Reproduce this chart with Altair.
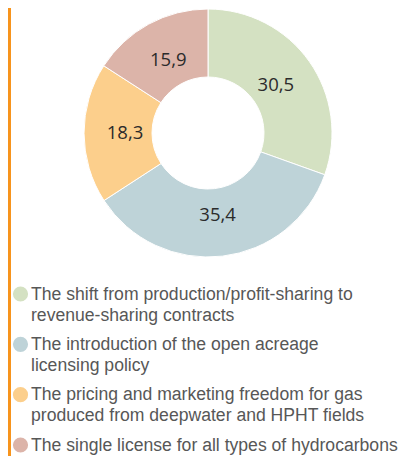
import altair as alt
import pandas as pd

categories = [
    "The shift from production/profit-sharing to revenue-sharing contracts",
    "The introduction of the open acreage licensing policy",
    "The pricing and marketing freedom for gas produced from deepwater and HPHT fields",
    "The single license for all types of hydrocarbons",
]
legend_text = [
    "The shift from production/profit-sharing to\nrevenue-sharing contracts",
    "The introduction of the open acreage\nlicensing policy",
    "The pricing and marketing freedom for gas\nproduced from deepwater and HPHT fields",
    "The single license for all types of hydrocarbons",
]
values = [30.5, 35.4, 18.3, 15.9]
labels = ["30,5", "35,4", "18,3", "15,9"]
colors = ["#D4E1C2", "#BED3D8", "#FCCF8C", "#DCB4A9"]

df = pd.DataFrame({
    "category": categories,
    "legend": legend_text,
    "value": values,
    "label": labels,
    "idx": list(range(len(categories))),
})

W, H = 391, 448
CX, CY = 200, 125

color = alt.Color("category:N", scale=alt.Scale(domain=categories, range=colors), legend=None)
theta = alt.Theta("value:Q", stack=True)
order = alt.Order("idx:Q")

base = alt.Chart(df)

arcs = base.mark_arc(outerRadius=124, innerRadius=56, stroke="white", strokeWidth=1).encode(
    theta=theta, color=color, order=order,
    x=alt.value(CX), y=alt.value(CY),
)

slice_labels = base.mark_text(font="Open Sans", fontSize=18.5, color="#2b2b2b", baseline="middle").encode(
    theta=theta, order=order, text="label:N",
    radius=alt.value(83),
    x=alt.value(CX), y=alt.value(CY),
)

ypos = alt.Y("category:N", sort=categories, axis=None,
             scale=alt.Scale(type="point", domain=categories, range=[286, 437], padding=0))

legend_dots = base.mark_circle(size=230, opacity=1).encode(
    x=alt.value(12.5), y=ypos, color=color,
)

legend_labels = base.mark_text(
    align="left", baseline="alphabetic", dy=5.5, lineBreak="\n", lineHeight=21,
    font="Liberation Sans", fontSize=17.6, color="#575757",
).encode(
    x=alt.value(23), y=ypos, text="legend:N",
)

side_line = base.mark_rule(color="#F7941D", strokeWidth=3).encode(
    x=alt.value(1.5), y=alt.value(0), y2=alt.value(H),
)

chart = alt.layer(side_line, arcs, slice_labels, legend_dots, legend_labels).properties(
    width=W, height=H, autosize=alt.AutoSizeParams(type="none"), padding=0,
).configure_view(stroke=None)

chart.save("out.html", embed_options={"renderer": "svg", "actions": False})
